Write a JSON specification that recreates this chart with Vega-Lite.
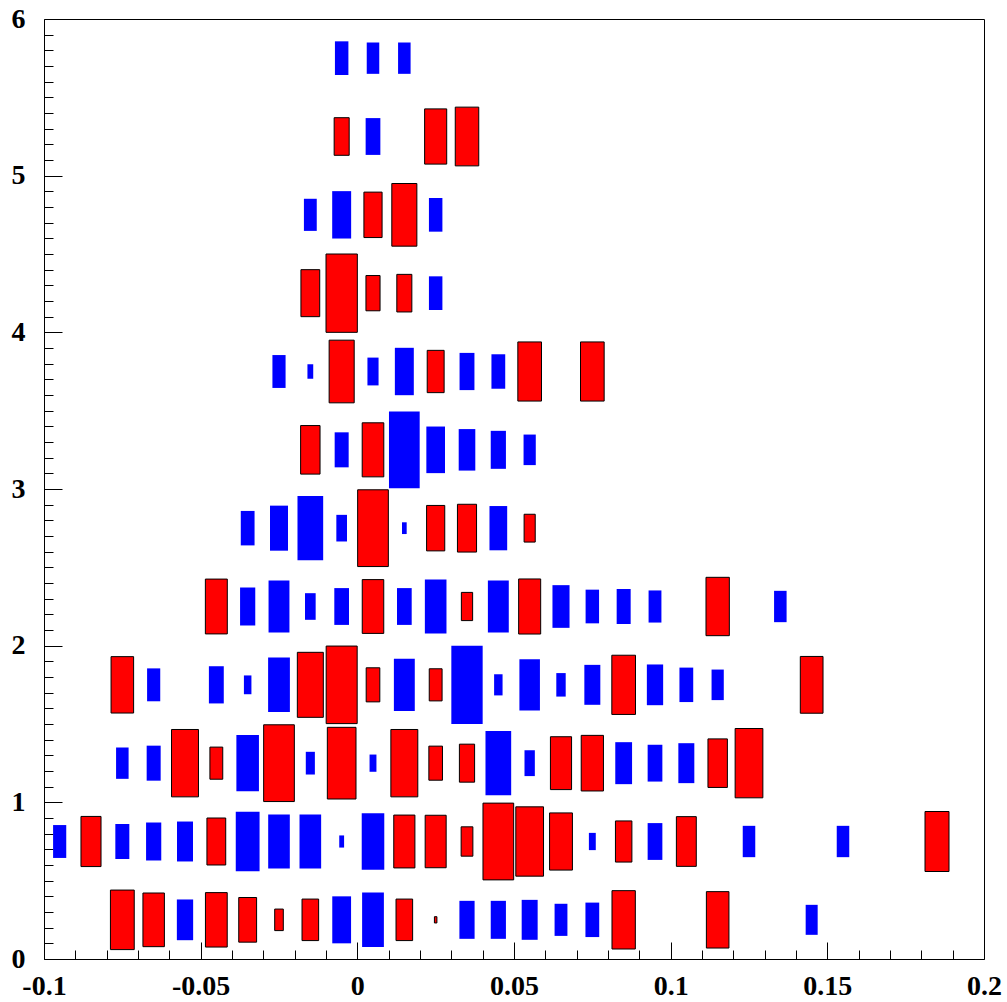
{
  "$schema": "https://vega.github.io/schema/vega-lite/v6.json",
  "autosize": "none",
  "padding": {"left": 44, "top": 19, "right": 23, "bottom": 43},
  "width": 940,
  "height": 940,
  "background": "white",
  "config": {
    "view": {"stroke": "black", "strokeWidth": 1},
    "axis": {
      "grid": false,
      "domain": false,
      "ticks": true,
      "tickColor": "#000000",
      "tickWidth": 1,
      "tickOpacity": 1,
      "zindex": 1,
      "labelFont": "Liberation Serif",
      "labelFontWeight": "bold",
      "labelFontSize": 28,
      "labelColor": "black",
      "labelOverlap": false,
      "labelFlush": false,
      "labelBound": false,
      "title": null
    }
  },
  "datasets": {"boxes": [
    {"x": -0.075, "y": 0.25, "z": 0.76, "c": "r"},
    {"x": -0.065, "y": 0.25, "z": 0.685, "c": "r"},
    {"x": -0.055, "y": 0.25, "z": 0.52, "c": "b"},
    {"x": -0.045, "y": 0.25, "z": 0.695, "c": "r"},
    {"x": -0.035, "y": 0.25, "z": 0.57, "c": "r"},
    {"x": -0.025, "y": 0.25, "z": 0.275, "c": "r"},
    {"x": -0.015, "y": 0.25, "z": 0.53, "c": "r"},
    {"x": -0.005, "y": 0.25, "z": 0.6, "c": "b"},
    {"x": 0.005, "y": 0.25, "z": 0.695, "c": "b"},
    {"x": 0.015, "y": 0.25, "z": 0.53, "c": "r"},
    {"x": 0.025, "y": 0.25, "z": 0.08, "c": "r"},
    {"x": 0.035, "y": 0.25, "z": 0.485, "c": "b"},
    {"x": 0.045, "y": 0.25, "z": 0.485, "c": "b"},
    {"x": 0.055, "y": 0.25, "z": 0.51, "c": "b"},
    {"x": 0.065, "y": 0.25, "z": 0.41, "c": "b"},
    {"x": 0.075, "y": 0.25, "z": 0.44, "c": "b"},
    {"x": 0.085, "y": 0.25, "z": 0.745, "c": "r"},
    {"x": 0.115, "y": 0.25, "z": 0.72, "c": "r"},
    {"x": 0.145, "y": 0.25, "z": 0.383, "c": "b"},

    {"x": -0.095, "y": 0.75, "z": 0.42, "c": "b"},
    {"x": -0.085, "y": 0.75, "z": 0.64, "c": "r"},
    {"x": -0.075, "y": 0.75, "z": 0.447, "c": "b"},
    {"x": -0.065, "y": 0.75, "z": 0.485, "c": "b"},
    {"x": -0.055, "y": 0.75, "z": 0.51, "c": "b"},
    {"x": -0.045, "y": 0.75, "z": 0.6, "c": "r"},
    {"x": -0.035, "y": 0.75, "z": 0.76, "c": "b"},
    {"x": -0.025, "y": 0.75, "z": 0.69, "c": "b"},
    {"x": -0.015, "y": 0.75, "z": 0.69, "c": "b"},
    {"x": -0.005, "y": 0.75, "z": 0.155, "c": "b"},
    {"x": 0.005, "y": 0.75, "z": 0.72, "c": "b"},
    {"x": 0.015, "y": 0.75, "z": 0.675, "c": "r"},
    {"x": 0.025, "y": 0.75, "z": 0.67, "c": "r"},
    {"x": 0.035, "y": 0.75, "z": 0.375, "c": "r"},
    {"x": 0.045, "y": 0.75, "z": 0.98, "c": "r"},
    {"x": 0.055, "y": 0.75, "z": 0.885, "c": "r"},
    {"x": 0.065, "y": 0.75, "z": 0.73, "c": "r"},
    {"x": 0.075, "y": 0.75, "z": 0.22, "c": "b"},
    {"x": 0.085, "y": 0.75, "z": 0.525, "c": "r"},
    {"x": 0.095, "y": 0.75, "z": 0.47, "c": "b"},
    {"x": 0.105, "y": 0.75, "z": 0.635, "c": "r"},
    {"x": 0.125, "y": 0.75, "z": 0.4, "c": "b"},
    {"x": 0.155, "y": 0.75, "z": 0.4, "c": "b"},
    {"x": 0.185, "y": 0.75, "z": 0.766, "c": "r"},

    {"x": -0.075, "y": 1.25, "z": 0.4, "c": "b"},
    {"x": -0.065, "y": 1.25, "z": 0.447, "c": "b"},
    {"x": -0.055, "y": 1.25, "z": 0.86, "c": "r"},
    {"x": -0.045, "y": 1.25, "z": 0.41, "c": "r"},
    {"x": -0.035, "y": 1.25, "z": 0.72, "c": "b"},
    {"x": -0.025, "y": 1.25, "z": 0.98, "c": "r"},
    {"x": -0.015, "y": 1.25, "z": 0.29, "c": "b"},
    {"x": -0.005, "y": 1.25, "z": 0.915, "c": "r"},
    {"x": 0.005, "y": 1.25, "z": 0.22, "c": "b"},
    {"x": 0.015, "y": 1.25, "z": 0.86, "c": "r"},
    {"x": 0.025, "y": 1.25, "z": 0.435, "c": "r"},
    {"x": 0.035, "y": 1.25, "z": 0.485, "c": "r"},
    {"x": 0.045, "y": 1.25, "z": 0.82, "c": "b"},
    {"x": 0.055, "y": 1.25, "z": 0.33, "c": "b"},
    {"x": 0.065, "y": 1.25, "z": 0.675, "c": "r"},
    {"x": 0.075, "y": 1.25, "z": 0.71, "c": "r"},
    {"x": 0.085, "y": 1.25, "z": 0.536, "c": "b"},
    {"x": 0.095, "y": 1.25, "z": 0.47, "c": "b"},
    {"x": 0.105, "y": 1.25, "z": 0.51, "c": "b"},
    {"x": 0.115, "y": 1.25, "z": 0.62, "c": "r"},
    {"x": 0.125, "y": 1.25, "z": 0.885, "c": "r"},

    {"x": -0.075, "y": 1.75, "z": 0.72, "c": "r"},
    {"x": -0.065, "y": 1.75, "z": 0.42, "c": "b"},
    {"x": -0.045, "y": 1.75, "z": 0.475, "c": "b"},
    {"x": -0.035, "y": 1.75, "z": 0.24, "c": "b"},
    {"x": -0.025, "y": 1.75, "z": 0.695, "c": "b"},
    {"x": -0.015, "y": 1.75, "z": 0.83, "c": "r"},
    {"x": -0.005, "y": 1.75, "z": 0.99, "c": "r"},
    {"x": 0.005, "y": 1.75, "z": 0.435, "c": "r"},
    {"x": 0.015, "y": 1.75, "z": 0.667, "c": "b"},
    {"x": 0.025, "y": 1.75, "z": 0.41, "c": "r"},
    {"x": 0.035, "y": 1.75, "z": 1.0, "c": "b"},
    {"x": 0.045, "y": 1.75, "z": 0.27, "c": "b"},
    {"x": 0.055, "y": 1.75, "z": 0.655, "c": "b"},
    {"x": 0.065, "y": 1.75, "z": 0.3, "c": "b"},
    {"x": 0.075, "y": 1.75, "z": 0.51, "c": "b"},
    {"x": 0.085, "y": 1.75, "z": 0.756, "c": "r"},
    {"x": 0.095, "y": 1.75, "z": 0.52, "c": "b"},
    {"x": 0.105, "y": 1.75, "z": 0.44, "c": "b"},
    {"x": 0.115, "y": 1.75, "z": 0.39, "c": "b"},
    {"x": 0.145, "y": 1.75, "z": 0.725, "c": "r"},

    {"x": -0.045, "y": 2.25, "z": 0.7, "c": "r"},
    {"x": -0.035, "y": 2.25, "z": 0.485, "c": "b"},
    {"x": -0.025, "y": 2.25, "z": 0.667, "c": "b"},
    {"x": -0.015, "y": 2.25, "z": 0.34, "c": "b"},
    {"x": -0.005, "y": 2.25, "z": 0.47, "c": "b"},
    {"x": 0.005, "y": 2.25, "z": 0.687, "c": "r"},
    {"x": 0.015, "y": 2.25, "z": 0.47, "c": "b"},
    {"x": 0.025, "y": 2.25, "z": 0.69, "c": "b"},
    {"x": 0.035, "y": 2.25, "z": 0.36, "c": "r"},
    {"x": 0.045, "y": 2.25, "z": 0.667, "c": "b"},
    {"x": 0.055, "y": 2.25, "z": 0.703, "c": "r"},
    {"x": 0.065, "y": 2.25, "z": 0.545, "c": "b"},
    {"x": 0.075, "y": 2.25, "z": 0.43, "c": "b"},
    {"x": 0.085, "y": 2.25, "z": 0.447, "c": "b"},
    {"x": 0.095, "y": 2.25, "z": 0.41, "c": "b"},
    {"x": 0.115, "y": 2.25, "z": 0.745, "c": "r"},
    {"x": 0.135, "y": 2.25, "z": 0.4, "c": "b"},

    {"x": -0.035, "y": 2.75, "z": 0.44, "c": "b"},
    {"x": -0.025, "y": 2.75, "z": 0.575, "c": "b"},
    {"x": -0.015, "y": 2.75, "z": 0.82, "c": "b"},
    {"x": -0.005, "y": 2.75, "z": 0.34, "c": "b"},
    {"x": 0.005, "y": 2.75, "z": 0.98, "c": "r"},
    {"x": 0.015, "y": 2.75, "z": 0.15, "c": "b"},
    {"x": 0.025, "y": 2.75, "z": 0.58, "c": "r"},
    {"x": 0.035, "y": 2.75, "z": 0.61, "c": "r"},
    {"x": 0.045, "y": 2.75, "z": 0.565, "c": "b"},
    {"x": 0.055, "y": 2.75, "z": 0.355, "c": "r"},

    {"x": -0.015, "y": 3.25, "z": 0.62, "c": "r"},
    {"x": -0.005, "y": 3.25, "z": 0.447, "c": "b"},
    {"x": 0.005, "y": 3.25, "z": 0.69, "c": "r"},
    {"x": 0.015, "y": 3.25, "z": 0.98, "c": "b"},
    {"x": 0.025, "y": 3.25, "z": 0.595, "c": "b"},
    {"x": 0.035, "y": 3.25, "z": 0.53, "c": "b"},
    {"x": 0.045, "y": 3.25, "z": 0.485, "c": "b"},
    {"x": 0.055, "y": 3.25, "z": 0.39, "c": "b"},

    {"x": -0.025, "y": 3.75, "z": 0.42, "c": "b"},
    {"x": -0.015, "y": 3.75, "z": 0.185, "c": "b"},
    {"x": -0.005, "y": 3.75, "z": 0.8, "c": "r"},
    {"x": 0.005, "y": 3.75, "z": 0.355, "c": "b"},
    {"x": 0.015, "y": 3.75, "z": 0.605, "c": "b"},
    {"x": 0.025, "y": 3.75, "z": 0.54, "c": "r"},
    {"x": 0.035, "y": 3.75, "z": 0.475, "c": "b"},
    {"x": 0.045, "y": 3.75, "z": 0.44, "c": "b"},
    {"x": 0.055, "y": 3.75, "z": 0.755, "c": "r"},
    {"x": 0.075, "y": 3.75, "z": 0.755, "c": "r"},

    {"x": -0.015, "y": 4.25, "z": 0.6, "c": "r"},
    {"x": -0.005, "y": 4.25, "z": 1.0, "c": "r"},
    {"x": 0.005, "y": 4.25, "z": 0.45, "c": "r"},
    {"x": 0.015, "y": 4.25, "z": 0.48, "c": "r"},
    {"x": 0.025, "y": 4.25, "z": 0.43, "c": "b"},

    {"x": -0.015, "y": 4.75, "z": 0.41, "c": "b"},
    {"x": -0.005, "y": 4.75, "z": 0.605, "c": "b"},
    {"x": 0.005, "y": 4.75, "z": 0.58, "c": "r"},
    {"x": 0.015, "y": 4.75, "z": 0.8, "c": "r"},
    {"x": 0.025, "y": 4.75, "z": 0.43, "c": "b"},

    {"x": -0.005, "y": 5.25, "z": 0.48, "c": "r"},
    {"x": 0.005, "y": 5.25, "z": 0.47, "c": "b"},
    {"x": 0.025, "y": 5.25, "z": 0.705, "c": "r"},
    {"x": 0.035, "y": 5.25, "z": 0.75, "c": "r"},

    {"x": -0.005, "y": 5.75, "z": 0.43, "c": "b"},
    {"x": 0.005, "y": 5.75, "z": 0.4, "c": "b"},
    {"x": 0.015, "y": 5.75, "z": 0.4, "c": "b"}
  ]},
  "data": {"name": "boxes"},
  "resolve": {"axis": {"x": "independent", "y": "independent"}},
  "layer": [
    {
      "transform": [{"filter": "datum.c == 'b'"}],
      "mark": {"type": "point", "shape": "M-1,-2.5L1,-2.5L1,2.5L-1,2.5Z", "filled": true, "fill": "#0000ff", "fillOpacity": 1, "opacity": 1, "strokeWidth": 0},
      "encoding": {
        "x": {
          "field": "x", "type": "quantitative",
          "scale": {"domain": [-0.1, 0.2], "nice": false, "zero": false},
          "axis": {
            "orient": "bottom",
            "values": [-0.09,-0.08,-0.07,-0.06,-0.04,-0.03,-0.02,-0.01,0.01,0.02,0.03,0.04,0.06,0.07,0.08,0.09,0.11,0.12,0.13,0.14,0.16,0.17,0.18,0.19],
            "offset": -9,
            "ticks": true,
            "tickSize": 9,
            "tickColor": "#000000",
            "tickWidth": 1,
            "labels": false
          }
        },
        "y": {
          "field": "y", "type": "quantitative",
          "scale": {"domain": [0, 6], "nice": false, "zero": false},
          "axis": {
            "orient": "left",
            "values": [0.1,0.2,0.3,0.4,0.5,0.6,0.7,0.8,0.9,1.1,1.2,1.3,1.4,1.5,1.6,1.7,1.8,1.9,2.1,2.2,2.3,2.4,2.5,2.6,2.7,2.8,2.9,3.1,3.2,3.3,3.4,3.5,3.6,3.7,3.8,3.9,4.1,4.2,4.3,4.4,4.5,4.6,4.7,4.8,4.9,5.1,5.2,5.3,5.4,5.5,5.6,5.7,5.8,5.9],
            "offset": -9,
            "ticks": true,
            "tickSize": 9,
            "tickColor": "#000000",
            "tickWidth": 1,
            "labels": false
          }
        },
        "size": {
          "field": "z", "type": "quantitative",
          "scale": {"type": "pow", "exponent": 2, "domain": [0, 1], "range": [0, 981.7]},
          "legend": null
        }
      }
    },
    {
      "transform": [{"filter": "datum.c == 'r'"}],
      "mark": {"type": "point", "shape": "M-1,-2.5L1,-2.5L1,2.5L-1,2.5Z", "filled": true, "fill": "#ff0000", "fillOpacity": 1, "opacity": 1, "stroke": "black", "strokeWidth": 1},
      "encoding": {
        "x": {
          "field": "x", "type": "quantitative",
          "scale": {"domain": [-0.1, 0.2], "nice": false, "zero": false},
          "axis": {
            "orient": "bottom",
            "values": [-0.1, -0.05, 0, 0.05, 0.1, 0.15, 0.2],
            "offset": -17,
            "ticks": true,
            "tickSize": 17,
            "tickColor": "#000000",
            "tickWidth": 1,
            "labelExpr": "toString(datum.value)",
            "labelPadding": 13,
            "labelBaseline": "top"
          }
        },
        "y": {
          "field": "y", "type": "quantitative",
          "scale": {"domain": [0, 6], "nice": false, "zero": false},
          "axis": {
            "orient": "left",
            "values": [0, 1, 2, 3, 4, 5, 6],
            "offset": -18,
            "ticks": true,
            "tickSize": 18,
            "tickColor": "#000000",
            "tickWidth": 1,
            "labelExpr": "toString(datum.value)",
            "labelPadding": 19
          }
        },
        "size": {
          "field": "z", "type": "quantitative",
          "scale": {"type": "pow", "exponent": 2, "domain": [0, 1], "range": [0, 981.7]},
          "legend": null
        }
      }
    }
  ]
}
